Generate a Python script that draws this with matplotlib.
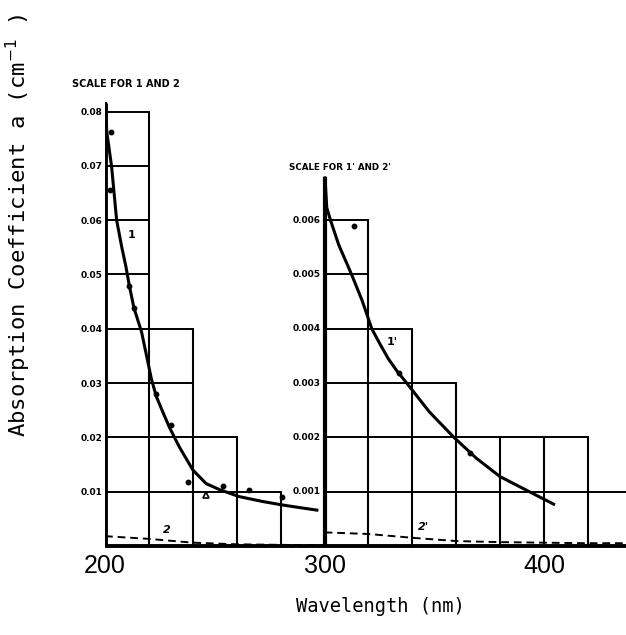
import matplotlib
matplotlib.use("Agg")
import matplotlib.pyplot as plt

# staircase grid, left panel (scale for 1 and 2), wavelength edges in nm
LEFT_EDGES = [200, 220, 240, 260, 280]
LEFT_HEIGHTS = [0.08, 0.04, 0.02, 0.01]
LEFT_TICKS = [0.01, 0.02, 0.03, 0.04, 0.05, 0.06, 0.07, 0.08]
LEFT_TICK_LABELS = ["0.01", "0.02", "0.03", "0.04", "0.05", "0.06", "0.07", "0.08"]

# right panel (scale for 1' and 2'), values are 10x smaller
RIGHT_EDGES = [300, 320, 340, 360, 380, 400, 420, 440]
RIGHT_HEIGHTS = [0.006, 0.004, 0.003, 0.002, 0.002, 0.002, 0.001]
RIGHT_TICKS = [0.001, 0.002, 0.003, 0.004, 0.005, 0.006]
RIGHT_TICK_LABELS = ["0.001", "0.002", "0.003", "0.004", "0.005", "0.006"]
RIGHT_SCALE = 10

# curve 1
C1_NM = [200.3, 200.8, 203.0, 205.3, 207.6, 209.5, 211.0, 213.2, 216.6, 219.2, 221.1,
         223.4, 226.5, 229.4, 233.9, 240.0, 246.0, 252.0, 261.0, 271.6, 280.0, 288.0, 296.5]
C1_VAL = [0.0815, 0.0763, 0.0699, 0.0600, 0.0551, 0.0515, 0.0481, 0.0438, 0.0395, 0.0345, 0.0308,
          0.0275, 0.0245, 0.0218, 0.0182, 0.0140, 0.0115, 0.0104, 0.0091, 0.0082, 0.0076, 0.0071, 0.0066]
M1_NM = [202.7, 202.3, 210.9, 213.2, 223.4, 230.2, 237.8, 253.9, 265.6, 280.4]
M1_VAL = [0.0762, 0.0655, 0.0479, 0.0438, 0.0279, 0.0222, 0.0118, 0.0110, 0.0103, 0.0090]
T1_NM = [246.0]
T1_VAL = [0.0093]

# curve 2 (dashed)
C2_NM = [200, 220, 240, 260, 280, 300]
C2_VAL = [0.0018, 0.0013, 0.0006, 0.0003, 0.0002, 0.0001]

# curve 1'
C1P_NM = [300.2, 301.0, 302.7, 306.4, 312.3, 317.1, 321.5, 325.5, 329.0, 333.0, 337.4, 347.7,
          358.9, 369.0, 379.8, 393.2, 404.3]
C1P_VAL = [0.00678, 0.00623, 0.00600, 0.00555, 0.00500, 0.00452, 0.00400, 0.00370, 0.00345, 0.00322,
           0.00300, 0.00247, 0.00200, 0.00162, 0.00128, 0.00100, 0.00077]
M1P_NM = [313.3, 334.0, 366.0]
M1P_VAL = [0.0059, 0.00318, 0.00172]

# curve 2' (dashed)
C2P_NM = [300, 320, 340, 360, 380, 400, 420, 440]
C2P_VAL = [0.00025, 0.00022, 0.00015, 0.00009, 0.00007, 0.00006, 0.00005, 0.00005]

MONO = "DejaVu Sans Mono"
INK = "black"


def draw_steps(ax, edges, heights, step, scale=1):
    hs = [h * scale for h in heights]
    st = step * scale
    for j, x in enumerate(edges):
        adj = []
        if j > 0:
            adj.append(hs[j - 1])
        if j < len(hs):
            adj.append(hs[j])
        ax.plot([x, x], [0, max(adj)], color=INK, lw=1.5, solid_capstyle="butt")
    n = int(round(max(hs) / st))
    for k in range(1, n + 1):
        level = k * st
        last = max(i for i, h in enumerate(hs) if h >= level - 1e-9)
        ax.plot([edges[0], edges[last + 1]], [level, level], color=INK, lw=1.4)


fig = plt.figure(figsize=(6.26, 6.35), dpi=100)
ax = fig.add_axes([105 / 626, 0.1317, 527 / 626, 0.778])
ax.set_xlim(200, 440)
ax.set_ylim(-0.001, 0.09)
for s in ax.spines.values():
    s.set_visible(False)

draw_steps(ax, LEFT_EDGES, LEFT_HEIGHTS, 0.01)
draw_steps(ax, RIGHT_EDGES, RIGHT_HEIGHTS, 0.001, RIGHT_SCALE)

# axis lines
ax.plot([200, 200], [0, 0.0816], color=INK, lw=3.5, solid_capstyle="butt")
ax.plot([300, 300], [0, 0.0680], color=INK, lw=3.0, solid_capstyle="butt")
ax.plot([200, 440], [0, 0], color=INK, lw=2.8)

# curves
ax.plot(C1_NM, C1_VAL, color=INK, lw=2.2, solid_joinstyle="round")
ax.plot(M1_NM, M1_VAL, "o", color=INK, ms=3.2)
ax.plot(T1_NM, T1_VAL, "^", color=INK, ms=4, mfc="white", mew=1.2)
ax.plot(C2_NM, C2_VAL, color=INK, lw=1.4, ls=(0, (4, 2.5)))
ax.plot(C1P_NM, [v * RIGHT_SCALE for v in C1P_VAL], color=INK, lw=2.2, solid_joinstyle="round")
ax.plot(M1P_NM, [v * RIGHT_SCALE for v in M1P_VAL], "o", color=INK, ms=3.2)
ax.plot(C2P_NM, [v * RIGHT_SCALE for v in C2P_VAL], color=INK, lw=1.4, ls=(0, (4, 2.5)))

# curve labels
ax.text(211.9, 0.0573, "1", fontsize=8, fontweight="bold", ha="center", va="center")
ax.text(228.3, 0.0029, "2", fontsize=8, fontweight="bold", style="italic", ha="center", va="center")
ax.text(330.6, 0.0376, "1'", fontsize=8, fontweight="bold", ha="center", va="center")
ax.text(345.2, 0.0035, "2'", fontsize=8, fontweight="bold", style="italic", ha="center", va="center")

# scale captions
ax.text(185.0, 0.0851, "SCALE FOR 1 AND 2", fontsize=7, fontweight="bold",
        ha="left", va="center", clip_on=False)
ax.text(283.6, 0.0698, "SCALE FOR 1' AND 2'", fontsize=6.3, fontweight="bold",
        ha="left", va="center", clip_on=False)

# ticks
ax.set_xticks([200, 300, 400])
ax.set_xticklabels(["200", "300", "400"], fontfamily="Liberation Sans", fontsize=18)
ax.set_yticks(LEFT_TICKS)
ax.set_yticklabels(LEFT_TICK_LABELS, fontsize=6.5, fontweight="bold")
ax.tick_params(axis="x", length=0, pad=2)
ax.tick_params(axis="y", length=0, pad=2)
for v, lab in zip(RIGHT_TICKS, RIGHT_TICK_LABELS):
    ax.annotate(lab, (300, v * RIGHT_SCALE), xytext=(-2.5, 0), textcoords="offset points",
                ha="right", va="center", fontsize=6.5, fontweight="bold")

fig.text(380 / 626, 1 - 607 / 635, "Wavelength (nm)", family=MONO, fontsize=13.5,
         ha="center", va="center")
fig.text(18 / 626, 1 - 226 / 635, "Absorption Coefficient a (cm$^{-1}$ )", family=MONO,
         fontsize=16, rotation=90, ha="center", va="center")

fig.savefig("out.png", dpi=100, facecolor="white")
